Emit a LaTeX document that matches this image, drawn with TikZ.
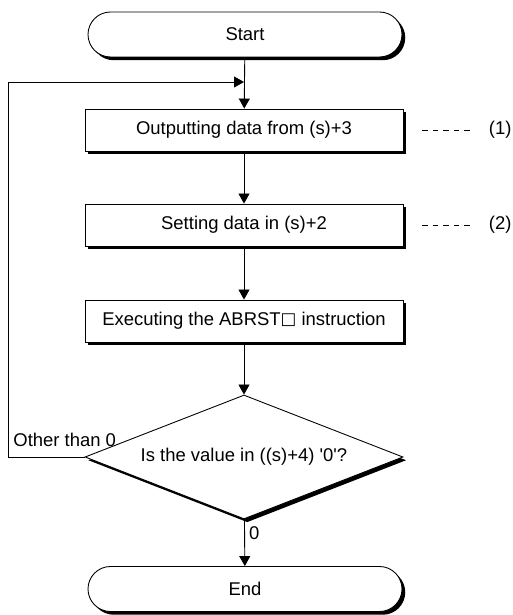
\documentclass[tikz,border=0pt]{standalone}
\usepackage{fontspec}
\setmainfont{Liberation Sans}
\newfontfamily\symfont{DejaVu Sans}
\usetikzlibrary{shapes.geometric,shapes.misc,shadows,arrows.meta,positioning}

\begin{document}
\begin{tikzpicture}[scale=1.0,
        font=\fontsize{10.5}{12.6}\selectfont,
        line width=0.5pt,
        shade/.style={drop shadow={shadow xshift=0.065cm, shadow yshift=-0.065cm, opacity=1, fill=black}},
        terminal/.style={rounded rectangle, draw, fill=white, shade, minimum width=6.28cm, minimum height=0.9cm, inner sep=0},
        process/.style={rectangle, draw, fill=white, shade, minimum width=6.36cm, minimum height=0.84cm, inner sep=0},
        decision/.style={diamond, draw, fill=white, shade, aspect=2.56, minimum width=6.36cm, minimum height=2.48cm, inner sep=0},
        note/.style={inner sep=0},
        notedash/.style={dash pattern=on 0.11cm off 0.1cm},
        flow/.style={-{Triangle[length=0.2cm, width=0.22cm]}}]

        \useasboundingbox (0,0) rectangle (10.26,12.3);

        % Terminals and steps
        \node[terminal] (start) at (4.9,11.61) {Start};
        \node[process] (out) at (4.88,9.7) {Outputting data from (s)+3};
        \node[process] (set) at (4.88,7.8) {Setting data in (s)+2};
        \node[process] (exec) at (4.88,5.88) {Executing the ABRST\raisebox{0.9pt}{\symfont\fontsize{9.5}{9.5}\selectfont □} instruction};
        \node[decision] (check) at (4.88,3.16) {Is the value in ((s)+4) \textquotesingle 0\textquotesingle ?};
        \node[terminal] (end) at (4.9,0.52) {End};

        % Step numbers
        \node[note, right=1.7cm of out] (num1) {(1)};
        \node[note, right=1.7cm of set] (num2) {(2)};
        \draw[notedash] ([xshift=0.38cm]out.east) -- ([xshift=-0.36cm]num1.west);
        \draw[notedash] ([xshift=0.38cm]set.east) -- ([xshift=-0.36cm]num2.west);

        % Main flow
        \coordinate (join) at (4.88,10.66);
        \draw[flow] (start) -- (out);
        \draw[flow] (out) -- (set);
        \draw[flow] (set) -- (exec);
        \draw[flow] (exec) -- (check);
        \draw[flow] (check) -- (end) node[pos=0.3, right=0.08cm, note] (zero) {0};

        % Loop back
        \draw[flow] (check.west) -- (0.16,3.16) -- (0.16,10.66) -- (join);
        \node[note, anchor=base west] (other) at (0.26,3.36) {Other than 0};
    \end{tikzpicture}
\end{document}
